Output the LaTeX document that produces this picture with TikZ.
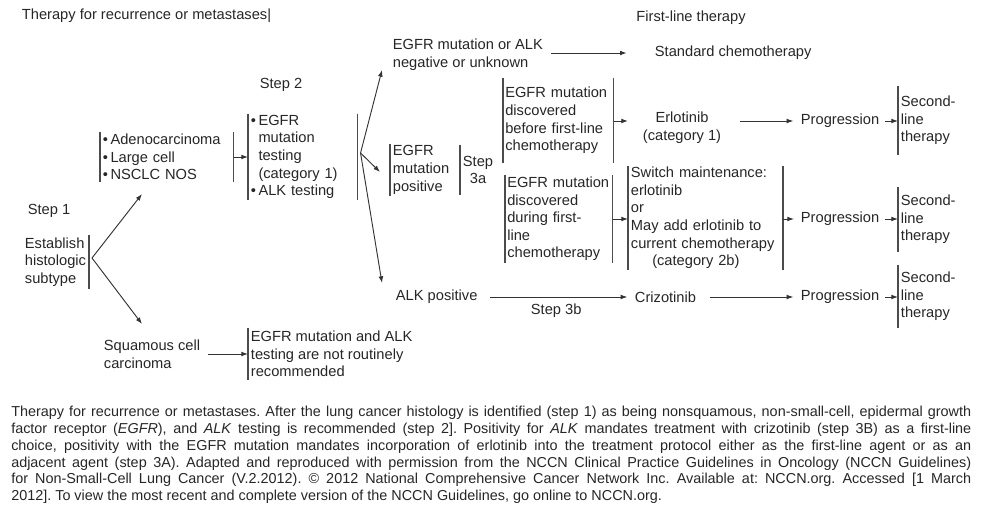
\documentclass[tikz,border=0pt]{standalone}
\usepackage{fontspec}
\setmainfont{Liberation Sans}
\usetikzlibrary{arrows.meta, calc, positioning}

\begin{document}
\frenchspacing
\begin{tikzpicture}[
  x = 0.75pt, y = -0.75pt,
  every node/.style={font=\fontsize{11}{13.2}\selectfont, text=black!85, inner xsep=2pt, inner ysep=1pt},
  box/.style={anchor=west, align=left},
  bar/.style={line width=1.1pt, black!70},
  arr/.style={-{Latex[length=5pt,width=3.6pt]}, line width=0.7pt, black!80}
]
%general params
\def\bl{\textbullet\,}
\def\ind{\hphantom{\textbullet\,}}
\useasboundingbox (0,0) rectangle (981,506);

%headings
\node[anchor=west] (title) at (19,16) {Therapy for recurrence or metastases|};
\node (firstline) at (691,18) {First-line therapy};
\node (step1) at (49,211) {Step 1};
\node (step2) at (281,85) {Step 2};

%step 1
\node[anchor=east, align=left, minimum height=40pt] (hist) at (89,262) {Establish\\histologic\\subtype};
\node[box, text width=95.75pt, minimum height=37.5pt] (nonsq) at (100,157) {\bl Adenocarcinoma\\\bl Large cell\\\bl NSCLC NOS};
\node[box] (squam) at (101,354) {Squamous cell\\carcinoma};
\node[box, minimum height=39pt] (notrec) at (248,354) {EGFR mutation and ALK\\testing are not routinely\\recommended};

%step 2
\node[box, text width=77.75pt, minimum height=62pt] (test) at (248,157) {\bl EGFR\\\ind mutation\\\ind testing\\\ind (category 1)\\\bl ALK testing};

%step 3
\node[box] (neg) at (390,55) {EGFR mutation or ALK\\negative or unknown};
\node[box, minimum height=37.5pt] (egfrpos) at (390,170) {EGFR\\mutation\\positive};
\node[anchor=west, align=center, minimum height=37.5pt] (step3a) at (460,170) {Step\\3a};
\node[box, text width=79.5pt, inner xsep=1.5pt, minimum height=64pt] (before) at (503,120.5) {\mbox{EGFR mutation}\\discovered\\before first-line\\chemotherapy};
\node[box, text width=77.25pt, inner xsep=1.5pt, minimum height=61.5pt] (during) at (505,219) {\mbox{EGFR mutation}\\discovered\\during first-\\line\\chemotherapy};
\node[box, text width=112pt, minimum height=75pt] (switch) at (628,218) {Switch maintenance:\\erlotinib\\or\\May add erlotinib to\\current chemotherapy\\\hspace*{16pt}(category 2b)};
\node[box] (alkpos) at (393,297) {ALK positive};

%first-line therapy
\node[box] (std) at (652,53) {Standard chemotherapy};
\node[align=center] (erlot) at (682,128) {Erlotinib\\(category 1)};
\node[box] (crizo) at (632,297) {Crizotinib};

%progression and second line
\node[box] (prog1) at (798,121) {Progression};
\node[box] (prog2) at (798,219) {Progression};
\node[box] (prog3) at (798,297) {Progression};
\node[box, minimum height=52pt] (second1) at (898,120.5) {Second-\\line\\therapy};
\node[box, minimum height=49pt] (second2) at (898,219.5) {Second-\\line\\therapy};
\node[box, minimum height=47pt] (second3) at (898,296.5) {Second-\\line\\therapy};

%bars
\foreach \n in {nonsq,test,egfrpos,step3a,before,during,switch,second1,second2,second3,notrec}
  \draw[bar] (\n.north west) -- (\n.south west);
\foreach \n in {hist,nonsq,test,before,during,switch}
  \draw[bar] (\n.north east) -- (\n.south east);

%fans
\coordinate (fanA) at ($(hist.east)+(3,-4)$);
\coordinate (tipA1) at (142,194);
\coordinate (tipA2) at (142,324);
\draw[arr] (fanA) -- (tipA1);
\draw[arr] (fanA) -- (tipA2);

\coordinate (fanB) at ($(test.east)+(3,-4)$);
\coordinate (tipB1) at (382,70);
\coordinate (tipB2) at (380,172);
\coordinate (tipB3) at (382,283);
\foreach \t in {tipB1,tipB2,tipB3}
  \draw[arr] (fanB) -- (\t);

%arrows
\draw[arr] (nonsq.east) -- (nonsq.east -| test.west);
\draw[arr, shorten <=4pt] (squam.east) -- (squam.east -| notrec.west);
\draw[arr, shorten <=4pt, shorten >=19pt] (std.west -| neg.east) -- (std.west);
\draw[arr, shorten >=9pt] (before.east |- prog1.west) -- (erlot.west |- prog1.west);
\draw[arr, shorten <=12pt, shorten >=3.5pt] (erlot.east |- prog1.west) -- (prog1.west);
\draw[arr, shorten <=2pt] (prog1.east) -- (prog1.east -| second1.west);
\draw[arr] (during.east) -- (during.east -| switch.west);
\draw[arr, shorten >=3pt] (switch.east |- prog2.west) -- (prog2.west);
\draw[arr, shorten <=2pt] (prog2.east) -- (prog2.east -| second2.west);
\draw[arr, shorten <=7.5pt, shorten >=3.5pt] (alkpos.east) -- (crizo.west) node[midway, below=4pt] (step3b) {Step 3b};
\draw[arr, shorten <=8pt, shorten >=3.5pt] (crizo.east) -- (prog3.west);
\draw[arr, shorten <=2pt] (prog3.east) -- (prog3.east -| second3.west);

%caption
\node[anchor=north west, align=left, inner sep=0pt, font=\fontsize{10.8}{12.6}\selectfont] (caption) at (11,406) {%
\makebox[720pt][s]{Therapy for recurrence or metastases. After the lung cancer histology is identified (step 1) as being nonsquamous, non-small-cell, epidermal growth}\\
\makebox[720pt][s]{factor receptor (\textit{EGFR}), and \textit{ALK} testing is recommended (step 2]. Positivity for \textit{ALK} mandates treatment with crizotinib (step 3B) as a first-line}\\
\makebox[720pt][s]{choice, positivity with the EGFR mutation mandates incorporation of erlotinib into the treatment protocol either as the first-line agent or as an}\\
\makebox[720pt][s]{adjacent agent (step 3A). Adapted and reproduced with permission from the NCCN Clinical Practice Guidelines in Oncology (NCCN Guidelines)}\\
\makebox[720pt][s]{for Non-Small-Cell Lung Cancer (V.2.2012). © 2012 National Comprehensive Cancer Network Inc. Available at: NCCN.org. Accessed [1 March}\\
2012]. To view the most recent and complete version of the NCCN Guidelines, go online to NCCN.org.};

\end{tikzpicture}
\end{document}
